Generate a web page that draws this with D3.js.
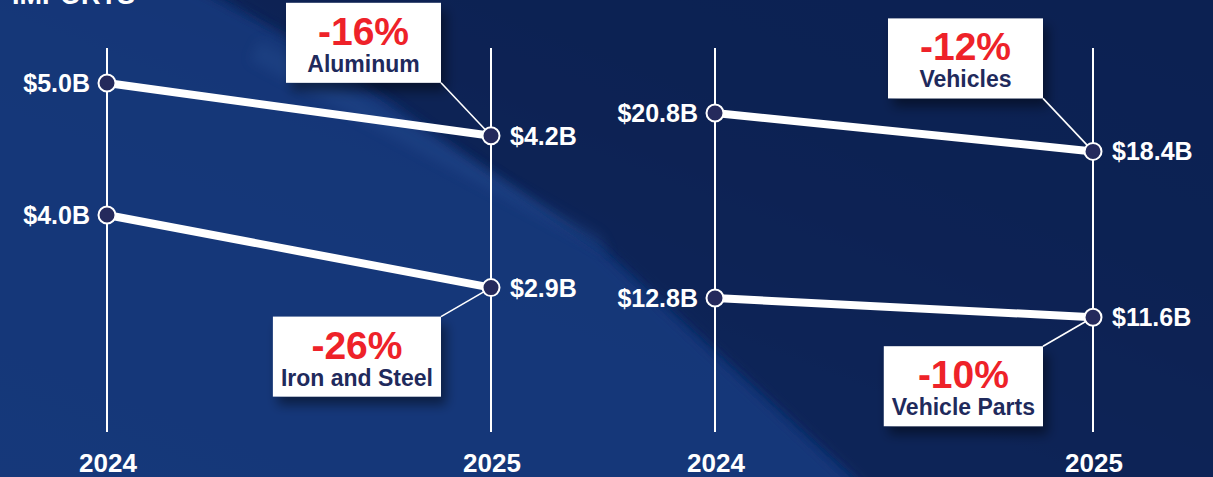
<!DOCTYPE html>
<html lang="en">

<head>
  <meta charset="UTF-8">
  <title>Imports 2024 vs 2025</title>
  <script src="https://d3js.org/d3.v7.min.js"></script>
  <style>
    body {
      margin: 0;
      background: #0f2d6b;
    }

    svg {
      display: block;
      font-family: "Liberation Sans", Arial, sans-serif;
      font-weight: bold;
    }
  </style>
</head>

<body>
  <svg width="1213" height="477"></svg>
  <script>
    // data
    const years = ["2024", "2025"];
    const categories = ["Aluminum", "Iron and Steel", "Vehicles", "Vehicle Parts"];
    const values2024 = [5.0, 4.0, 20.8, 12.8];
    const values2025 = [4.2, 2.9, 18.4, 11.6];
    const pctChange = ["-16%", "-26%", "-12%", "-10%"];
    const panelOf = [0, 0, 1, 1];

    const svg = d3.select("svg"),
      width = +svg.attr("width"),
      height = +svg.attr("height");

    // layout of the two slope panels
    const panels = [
      { x: [107, 491], rows: [83, 215], pxPerB: 66 },
      { x: [715, 1093], rows: [113, 298], pxPerB: 16 }
    ];
    const callout = ["above", "below", "above", "below"];

    // ---- background ----
    const defs = svg.append("defs");
    const grad = defs.append("linearGradient")
      .attr("id", "bg").attr("x1", "0").attr("y1", "1").attr("x2", "1").attr("y2", "0");
    grad.append("stop").attr("offset", "0%").attr("stop-color", "#163a7c");
    grad.append("stop").attr("offset", "45%").attr("stop-color", "#11306e");
    grad.append("stop").attr("offset", "70%").attr("stop-color", "#0c2358");
    grad.append("stop").attr("offset", "100%").attr("stop-color", "#0b1f50");

    defs.append("filter").attr("id", "soft")
      .attr("x", "-20%").attr("y", "-20%").attr("width", "140%").attr("height", "140%")
      .append("feGaussianBlur").attr("stdDeviation", 6);

    const shadow = defs.append("filter").attr("id", "shadow")
      .attr("x", "-20%").attr("y", "-20%").attr("width", "150%").attr("height", "160%");
    shadow.append("feDropShadow")
      .attr("dx", 5).attr("dy", 8).attr("stdDeviation", 6)
      .attr("flood-color", "#000").attr("flood-opacity", 0.45);

    svg.append("rect").attr("width", width).attr("height", height).attr("fill", "url(#bg)");

    // dark diagonal sweep across the top right
    svg.append("path")
      .attr("d", "M200,-20 L1240,-20 L1240,500 L880,500 L600,245 L420,140 Z")
      .attr("fill", "#0b2053").attr("opacity", 0.85).attr("filter", "url(#soft)");
    // lighter wedge under it on the left
    svg.append("path")
      .attr("d", "M-20,-20 L180,-20 L330,60 L600,250 L870,500 L-20,500 Z")
      .attr("fill", "#13377a").attr("opacity", 0.9).attr("filter", "url(#soft)");
    svg.append("path")
      .attr("d", "M260,40 L600,235 L610,255 L250,60 Z")
      .attr("fill", "#2a5296").attr("opacity", 0.3).attr("filter", "url(#soft)");

    // cut-off heading at the very top
    svg.append("text")
      .attr("x", 12).attr("y", 4)
      .attr("fill", "#fff").attr("font-size", 27)
      .text("IMPORTS");

    // ---- panels ----
    const rows = categories.map((c, i) => ({
      cat: c, v0: values2024[i], v1: values2025[i], pct: pctChange[i],
      panel: panelOf[i], side: callout[i]
    }));

    panels.forEach((p, pi) => {
      const g = svg.append("g");
      const x = d3.scalePoint().domain(years).range(p.x);
      const cats = rows.filter(r => r.panel === pi).map(r => r.cat);
      const row = d3.scalePoint().domain(cats).range(p.rows);
      const drop = d3.scaleLinear().domain([0, 1]).range([0, p.pxPerB]);

      const data = rows.filter(r => r.panel === pi).map(r => ({
        ...r,
        y0: row(r.cat),
        y1: row(r.cat) + drop(r.v0 - r.v1)
      }));

      // year axes
      g.selectAll("line.axis")
        .data(years)
        .join("line")
        .attr("class", "axis")
        .attr("x1", d => x(d)).attr("x2", d => x(d))
        .attr("y1", 48).attr("y2", 432)
        .attr("stroke", "#fff").attr("stroke-width", 2);

      g.selectAll("text.year")
        .data(years)
        .join("text")
        .attr("class", "year")
        .attr("x", d => x(d) + 1).attr("y", 472)
        .attr("text-anchor", "middle")
        .attr("fill", "#fff").attr("font-size", 26)
        .text(d => d);

      // slope lines
      g.selectAll("line.slope")
        .data(data)
        .join("line")
        .attr("class", "slope")
        .attr("x1", x(years[0])).attr("x2", x(years[1]))
        .attr("y1", d => d.y0).attr("y2", d => d.y1)
        .attr("stroke", "#fff").attr("stroke-width", 8);

      // callout boxes
      const boxes = g.selectAll("g.callout")
        .data(data)
        .join("g")
        .attr("class", "callout");

      boxes.each(function (d) {
        const b = d3.select(this);
        const xr = x(years[1]) - 50;
        const top = d.side === "above" ? d.y1 - 133 : d.y1 + 29;
        const boxH = 80;

        const lbl = b.append("text")
          .attr("y", top + 69)
          .attr("text-anchor", "middle")
          .attr("fill", "#1f2a5c").attr("font-size", 23)
          .text(d.cat);
        const w = Math.max(155, lbl.node().getComputedTextLength() + 16);
        const cx = xr - w / 2;
        lbl.attr("x", cx);

        b.insert("rect", "text")
          .attr("x", xr - w).attr("y", top)
          .attr("width", w).attr("height", boxH)
          .attr("fill", "#fff")
          .attr("filter", "url(#shadow)");

        b.append("text")
          .attr("x", cx).attr("y", top + 42)
          .attr("text-anchor", "middle")
          .attr("fill", "#ee2229").attr("font-size", 39)
          .text(d.pct);

        // leader to the 2025 point
        b.append("line")
          .attr("x1", xr).attr("y1", d.side === "above" ? top + boxH : top)
          .attr("x2", x(years[1])).attr("y2", d.y1)
          .attr("stroke", "#fff").attr("stroke-width", 1.6);
      });

      // points
      const pts = data.flatMap(d => [
        { x: x(years[0]), y: d.y0 },
        { x: x(years[1]), y: d.y1 }
      ]);
      g.selectAll("circle")
        .data(pts)
        .join("circle")
        .attr("cx", d => d.x).attr("cy", d => d.y)
        .attr("r", 8.5)
        .attr("fill", "#252a5c")
        .attr("stroke", "#fff").attr("stroke-width", 2);

      // value labels
      g.selectAll("text.v0")
        .data(data)
        .join("text")
        .attr("class", "v0")
        .attr("x", x(years[0]) - 17).attr("y", d => d.y0 + 9)
        .attr("text-anchor", "end")
        .attr("fill", "#fff").attr("font-size", 25)
        .text(d => "$" + d3.format(".1f")(d.v0) + "B");

      g.selectAll("text.v1")
        .data(data)
        .join("text")
        .attr("class", "v1")
        .attr("x", x(years[1]) + 19).attr("y", d => d.y1 + 9)
        .attr("text-anchor", "start")
        .attr("fill", "#fff").attr("font-size", 25)
        .text(d => "$" + d3.format(".1f")(d.v1) + "B");
    });
  </script>
</body>

</html>
